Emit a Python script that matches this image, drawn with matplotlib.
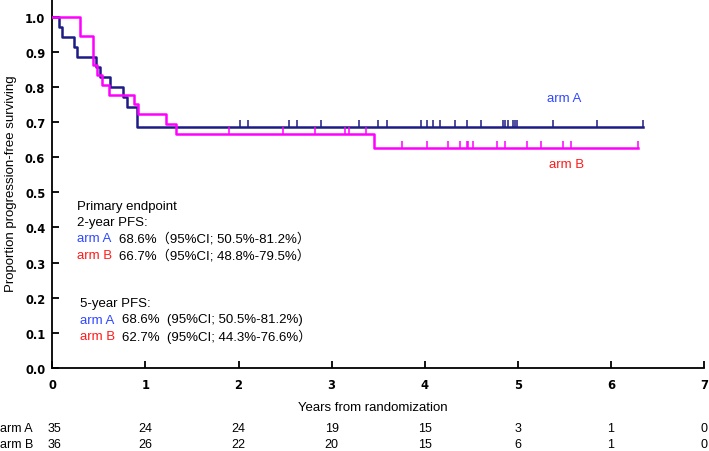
import numpy as np
import matplotlib
matplotlib.use("Agg")
import matplotlib.pyplot as plt

# ---- data ----
a_event_t = [0.075, 0.104, 0.237, 0.262, 0.47, 0.513, 0.62, 0.763, 0.806, 0.907]
a_level = [0.971, 0.943, 0.914, 0.886, 0.857, 0.829, 0.800, 0.771, 0.743, 0.686]
a_end = 6.34
a_censor = [2.02, 2.10, 2.54, 2.63, 2.89, 3.29, 3.50, 3.59, 3.96, 4.03, 4.09, 4.16,
            4.33, 4.45, 4.61, 4.84, 4.86, 4.89, 4.95, 4.97, 4.99, 5.38, 5.85, 6.34]

b_event_t = [0.30, 0.44, 0.475, 0.53, 0.605, 0.88, 0.92, 1.225, 1.33, 3.46]
b_level = [0.944, 0.861, 0.833, 0.806, 0.778, 0.750, 0.722, 0.694, 0.667, 0.627]
b_end = 6.29
b_censor = [1.90, 2.48, 2.82, 3.14, 3.19, 3.37, 3.76, 4.03, 4.25, 4.38, 4.45, 4.47,
            4.52, 4.78, 4.86, 5.10, 5.25, 5.49, 5.57, 6.29]

risk_years = [0, 1, 2, 3, 4, 5, 6, 7]
risk_a = [35, 24, 24, 19, 15, 3, 1, 0]
risk_b = [36, 26, 22, 20, 15, 6, 1, 0]

x_ticks = [0, 1, 2, 3, 4, 5, 6, 7]
y_ticks = [0.0, 0.1, 0.2, 0.3, 0.4, 0.5, 0.6, 0.7, 0.8, 0.9, 1.0]

COL_A = "#1c1c84"
COL_B = "#ff00ff"
TXT_A = "#2f48ff"
TXT_B = "#ff1a1a"

W, H = 709, 452
fig = plt.figure(figsize=(W / 100, H / 100), dpi=100)
ax = fig.add_axes([52.3 / W, (H - 369) / H, (704 - 52.3) / W, 369 / H])
ax.set_xlim(0, 7.0)
ax.set_ylim(0, 1.05)

FAM = ["Liberation Sans", "Noto Sans CJK JP", "DejaVu Sans"]
FAM_N = ["Liberation Sans Narrow", "Liberation Sans", "DejaVu Sans"]


def km_steps(ev_t, lev, end):
    t = np.concatenate([[0.0], ev_t, [end]])
    s = np.concatenate([[1.0], lev, [lev[-1]]])
    return t, s


def level_at(ev_t, lev, times):
    idx = np.searchsorted(np.asarray(ev_t), np.asarray(times), side="right")
    levs = np.concatenate([[1.0], lev])
    return levs[idx]


for ev, lv, end, cens, col in [
    (a_event_t, a_level, a_end, a_censor, COL_A),
    (b_event_t, b_level, b_end, b_censor, COL_B),
]:
    t, s = km_steps(ev, lv, end)
    ax.step(t, s, where="post", color=col, lw=1.8, zorder=3)
    cl = level_at(ev, lv, cens)
    ax.vlines(cens, cl, cl + 0.02, color=col, lw=1.1, zorder=3)

for side in ["top", "right"]:
    ax.spines[side].set_visible(False)
for side in ["left", "bottom"]:
    ax.spines[side].set_linewidth(1.3)

ax.set_xticks(x_ticks)
ax.set_xticklabels([str(v) for v in x_ticks])
ax.set_yticks(y_ticks)
ax.set_yticklabels([f"{v:.1f}" for v in y_ticks])
ax.tick_params(direction="in", length=5, width=1.3, labelsize=8.3)
ax.tick_params(axis="y", pad=5)
ax.tick_params(axis="x", pad=7)
for lab in ax.get_xticklabels() + ax.get_yticklabels():
    lab.set_fontweight("bold")
    lab.set_family("DejaVu Sans")


def ftxt(x, y, s, color="black", size=9.5, family=FAM, **kw):
    fig.text(x / W, 1 - y / H, s, color=color, fontsize=size, family=family,
             va="center", **kw)


# y label
ftxt(11, 184, "Proportion progression-free surviving", size=9.5, rotation=90,
     ha="center")
# x label
ftxt(373, 408, "Years from randomization", size=9.5, ha="center")

# curve labels
ftxt(564, 99, "arm A", color=TXT_A, size=9.5, ha="center")
ftxt(567, 165, "arm B", color=TXT_B, size=9.5, ha="center")

# annotation block
ftxt(77, 207, "Primary endpoint")
ftxt(77, 223, "2-year PFS:")
ftxt(77, 239.5, "arm A", color=TXT_A)
ftxt(119, 239.5, "68.6%\uff0895%CI; 50.5%-81.2%\uff09")
ftxt(77, 256, "arm B", color=TXT_B)
ftxt(119, 256, "66.7%\uff0895%CI; 48.8%-79.5%\uff09")

ftxt(80, 304, "5-year PFS:")
ftxt(80, 320.5, "arm A", color=TXT_A)
ftxt(122, 320.5, "68.6%  (95%CI; 50.5%-81.2%)")
ftxt(80, 337, "arm B", color=TXT_B)
ftxt(122, 337, "62.7%  (95%CI; 44.3%-76.6%\uff09")

# numbers at risk
ftxt(0, 429, "arm A", size=9, family=FAM_N)
ftxt(0, 445, "arm B", size=9, family=FAM_N)
for yr, na, nb in zip(risk_years, risk_a, risk_b):
    xp = ax.transData.transform((yr, 0))[0] + (2 if yr == 0 else 0)
    fig.text(xp / fig.bbox.width, 1 - 429 / H, str(na), fontsize=9,
             family=FAM_N, ha="center", va="center")
    fig.text(xp / fig.bbox.width, 1 - 445 / H, str(nb), fontsize=9,
             family=FAM_N, ha="center", va="center")

fig.savefig("out.png", dpi=100)
